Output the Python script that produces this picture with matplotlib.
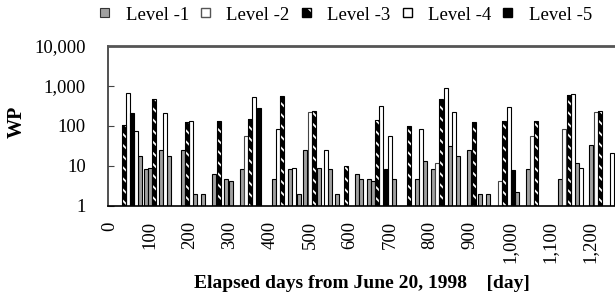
import matplotlib
matplotlib.use('Agg')
import matplotlib.pyplot as plt
from matplotlib.patches import Patch, Rectangle
from matplotlib.legend_handler import HandlerTuple, HandlerPatch
from matplotlib.ticker import FixedLocator, FuncFormatter, NullLocator
import numpy as np

plt.rcParams['font.family'] = ['Liberation Serif', 'DejaVu Serif']
plt.rcParams['hatch.linewidth'] = 1.3

# ---------------- data (elapsed day, WP) ----------------
level1_days = [74, 91, 100, 128, 148, 182, 213, 232, 260, 291, 302, 330, 410, 450, 472,
               488, 522, 550, 568, 617, 628, 648, 657, 710, 767, 787, 807, 849, 870, 897,
               925, 945, 1018, 1045, 1126, 1167, 1203]
level1_vals = [18, 8.4, 9, 25, 18, 25, 2, 2, 6.3, 4.7, 4.2, 8.4, 4.7, 8.4, 2,
               25, 9, 8.4, 2, 6.3, 4.7, 4.7, 4.3, 4.7, 4.7, 13, 8.4, 32, 18, 25,
               2, 2, 2.2, 8.4, 4.6, 12, 33]

level2_days = [340, 499, 817, 976, 1055, 1136, 1214]
level2_vals = [57, 218, 12, 4.2, 56, 84, 218]

level3_days = [34, 110, 192, 272, 350, 431, 510, 590, 667, 747, 828, 909, 986, 1066, 1147, 1225]
level3_vals = [106, 465, 128, 135, 147, 562, 235, 10, 141, 100, 470, 126, 137, 137, 600, 235]

level4_days = [44, 64, 137, 202, 361, 420, 461, 539, 678, 700, 778, 839, 859, 997, 1157, 1177, 1255]
level4_vals = [660, 75, 215, 137, 520, 84, 9, 25, 320, 56, 84, 870, 228, 295, 630, 9, 21]

level5_days = [54, 372, 690, 1008]
level5_vals = [208, 288, 8.4, 8]

level_labels = ['Level -1', 'Level -2', 'Level -3', 'Level -4', 'Level -5']
x_ticks = list(range(0, 1300, 100))
y_ticks = [1, 10, 100, 1000, 10000]

# ---------------- figure ----------------
W, H = 615, 298
fig = plt.figure(figsize=(W / 100, H / 100), dpi=100)
ax = fig.add_axes([108 / W, 1 - 206 / H, (630 - 108) / W, (206 - 46) / H])

BW = 10
LW = 0.8


def hts(v):
    return np.array(v, dtype=float) - 1.0


ax.bar(level1_days, hts(level1_vals), bottom=1, width=BW, color='#a0a0a0',
       edgecolor='black', linewidth=LW, zorder=2)
ax.bar(level2_days, hts(level2_vals), bottom=1, width=BW, color='white',
       edgecolor='#444444', linewidth=LW, zorder=2)
ax.bar(level3_days, hts(level3_vals), bottom=1, width=BW, color='black',
       edgecolor='white', hatch='\\\\\\', linewidth=0, zorder=2)
ax.bar(level3_days, hts(level3_vals), bottom=1, width=BW, fill=False,
       edgecolor='black', linewidth=LW, zorder=3)
ax.bar(level4_days, hts(level4_vals), bottom=1, width=BW, color='white',
       edgecolor='black', linewidth=LW, zorder=2)
ax.bar(level5_days, hts(level5_vals), bottom=1, width=BW, color='black',
       edgecolor='black', linewidth=LW, zorder=2)

ax.set_yscale('log')
ax.set_ylim(1, 10000)
ax.set_xlim(-5, 1300)

ax.yaxis.set_major_locator(FixedLocator(y_ticks))
ax.yaxis.set_minor_locator(NullLocator())
ax.yaxis.set_major_formatter(FuncFormatter(lambda v, p: f'{v:,.0f}'))
ax.xaxis.set_major_locator(FixedLocator(x_ticks))
ax.xaxis.set_major_formatter(FuncFormatter(lambda v, p: f'{v:,.0f}'))

ax.tick_params(axis='y', direction='in', length=4, width=0.8, color='#444444',
               labelsize=13.5, pad=16)
ax.tick_params(axis='x', length=0, labelsize=13.5, pad=11, labelrotation=90)

ax.spines['right'].set_visible(False)
ax.spines['top'].set_linewidth(2.0)
ax.spines['top'].set_color('#555555')
ax.spines['left'].set_linewidth(1.2)
ax.spines['left'].set_color('#333333')
ax.spines['bottom'].set_linewidth(1.2)
ax.spines['bottom'].set_color('black')

# axis titles
fig.text(17 / W, 1 - 122 / H, 'WP', rotation=90, ha='center', va='center',
         fontsize=14.5, fontweight='bold')
fig.text(362 / W, 1 - 283 / H, 'Elapsed days from June 20, 1998    [day]',
         ha='center', va='center', fontsize=14, fontweight='bold')


# legend with square swatches
def square(legend, orig_handle, xdescent, ydescent, width, height, fontsize):
    s = 6.5
    return Rectangle((width / 2 - s / 2 - xdescent, height / 2 - s / 2 - ydescent), s, s)


handles = [
    Patch(facecolor='#a0a0a0', edgecolor='#333333', linewidth=0.8),
    Patch(facecolor='white', edgecolor='#555555', linewidth=1.0),
    (Patch(facecolor='black', edgecolor='white', hatch='\\\\', linewidth=0),
     Patch(fill=False, edgecolor='black', linewidth=1.0)),
    Patch(facecolor='white', edgecolor='black', linewidth=1.0),
    Patch(facecolor='black', edgecolor='black', linewidth=1.0),
]
fig.legend(handles, level_labels, ncol=5, loc='center',
           bbox_to_anchor=(346 / W, 1 - 15 / H), frameon=False,
           fontsize=13.5, handlelength=0.5, handleheight=0.5,
           handletextpad=0.85, columnspacing=0.65, borderaxespad=0,
           handler_map={tuple: HandlerTuple(ndivide=1, pad=0),
                        Patch: HandlerPatch(patch_func=square)})

fig.savefig('out.png', dpi=100)
